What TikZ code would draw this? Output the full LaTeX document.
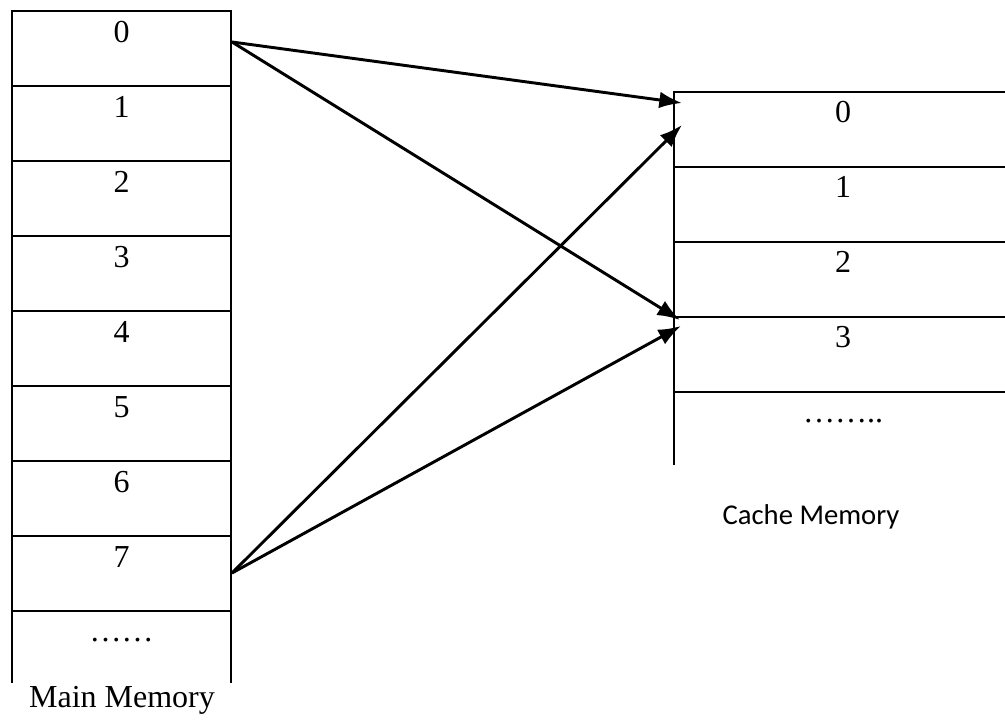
\documentclass[tikz,border=0pt]{standalone}
\usepackage{fontspec}
\setmainfont{Liberation Serif}
\newfontfamily\labelsans{Carlito}
\usetikzlibrary{arrows.meta}
\begin{document}
\begin{tikzpicture}[x=0.75pt,y=-0.75pt,
  wall/.style={line width=2.2pt},
  cellnum/.style={font=\fontsize{24}{28}\selectfont, inner sep=0pt},
  dotrow/.style={font=\fontsize{24}{28}\selectfont, inner sep=0pt, anchor=base},
  caption/.style={font=\fontsize{24}{28}\selectfont, inner sep=0pt},
  sanscaption/.style={font=\labelsans\fontsize{21.5}{26}\selectfont, inner sep=0pt},
  map/.style={line width=2.2pt, -{Latex[length=17pt,width=12.5pt]}}]
\useasboundingbox (0,0) rectangle (1005,721);

% Main memory column (open at the bottom)
\draw[wall] (12,683) -- (12,11) -- (231,11) -- (231,683);
\foreach \k in {1,...,8}
  \draw[wall] (12,11+75*\k) -- (231,11+75*\k);
\foreach \k in {0,...,7}
  \node[cellnum] (m\k) at (121.5,32+75*\k) {\k};
\node[dotrow] (mdots) at (121.5,641) {……};
\node[caption] (mcap) at (122,700) {Main Memory};

% Cache memory column (open at the bottom and on the right)
\draw[wall] (674,465) -- (674,92) -- (1005,92);
\foreach \k in {1,...,4}
  \draw[wall] (674,92+75*\k) -- (1005,92+75*\k);
\foreach \k in {0,...,3}
  \node[cellnum] (c\k) at (843,112+75*\k) {\k};
\node[dotrow] (cdots) at (843,422) {……..};
\node[sanscaption] (ccap) at (811,517) {Cache Memory};

% Ends of the mapping arrows
\coordinate (from0) at (232,42);
\coordinate (from7) at (232,573);
\coordinate (to0a) at (682,103);
\coordinate (to0b) at (682,125);
\coordinate (to3a) at (680,320);
\coordinate (to3b) at (681,326);

% Block 0 and block 7 map to cache lines 0 and 3
\draw[map] (from0) -- (to0a);
\draw[map] (from0) -- (to3a);
\draw[map] (from7) -- (to0b);
\draw[map] (from7) -- (to3b);
\end{tikzpicture}
\end{document}
